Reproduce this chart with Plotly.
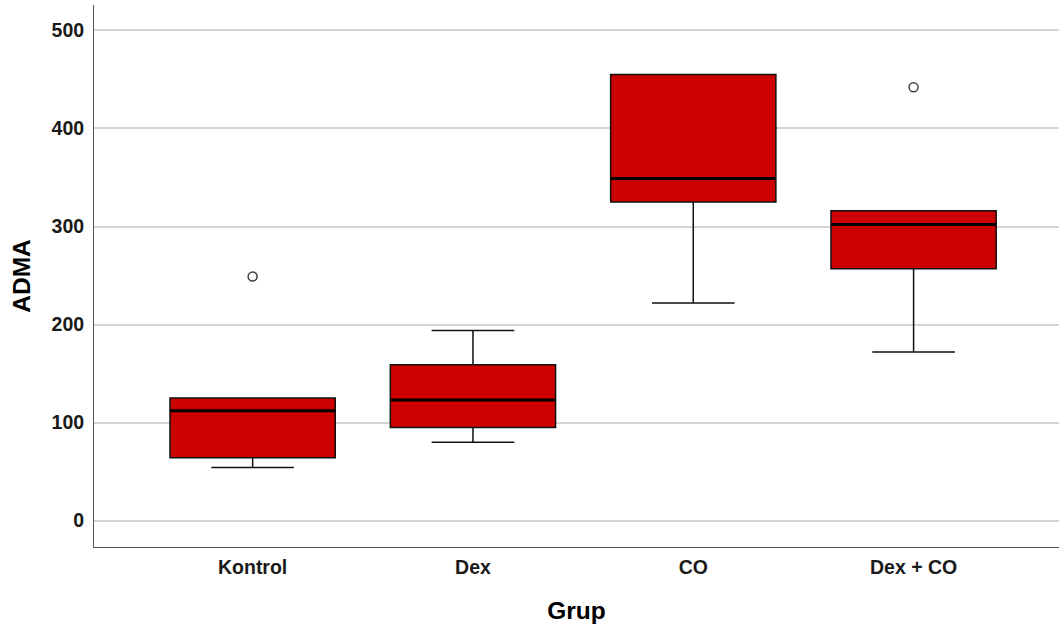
import plotly.graph_objects as go

groups = ["Kontrol", "Dex", "CO", "Dex + CO"]
lower = [54, 80, 222, 172]
q1 = [64, 95, 325, 257]
median = [112, 123, 349, 302]
q3 = [125, 159, 455, 316]
upper = [125, 194, 455, 316]
outlier_groups = ["Kontrol", "Dex + CO"]
outlier_values = [249, 442]
y_ticks = [0, 100, 200, 300, 400, 500]

box_w = 0.75
fig = go.Figure()
fig.add_trace(go.Box(
    x=groups, q1=q1, median=median, q3=q3,
    lowerfence=lower, upperfence=upper,
    fillcolor="#cc0000", line=dict(color="#111111", width=1.5),
    width=box_w, whiskerwidth=0.5, boxpoints=False, showlegend=False,
    hoverinfo="skip",
))
fig.add_trace(go.Scatter(
    x=outlier_groups, y=outlier_values, mode="markers",
    marker=dict(symbol="circle-open", size=9, color="#444444", line=dict(width=1.5)),
    showlegend=False, hoverinfo="skip",
))
for i, m in enumerate(median):
    fig.add_shape(type="line", xref="x", yref="y",
                  x0=i - box_w / 2, x1=i + box_w / 2, y0=m, y1=m,
                  line=dict(color="black", width=3))

fig.update_layout(
    width=1059, height=631,
    margin=dict(l=94, r=0, t=5, b=84, autoexpand=False),
    plot_bgcolor="white", paper_bgcolor="white",
    font=dict(family="Liberation Sans, Arial, sans-serif", size=20, color="#1a1a1a"),
)
fig.update_xaxes(
    type="category", range=[-0.72, 3.66],
    showline=True, linecolor="#555555", linewidth=1, mirror=False,
    showgrid=False, ticks="", automargin=False, ticklabelstandoff=3,
    tickfont=dict(size=19.5, weight="bold"),
    title=dict(text="<b>Grup</b>", font=dict(size=24.5, color="#000000"), standoff=24),
)
fig.update_yaxes(
    range=[-27, 526], tickvals=y_ticks,
    showline=True, linecolor="#555555", linewidth=1,
    showgrid=True, gridcolor="#d4d4d4", gridwidth=1.5,
    zeroline=False, ticks="", ticklabelstandoff=5, automargin=False,
    tickfont=dict(size=19.5, weight="bold"),
    title=dict(text="<b>ADMA</b>", font=dict(size=24.5, color="#000000"), standoff=13),
)
fig.write_html("out.html", config={"displayModeBar": False},
               post_script="document.body.style.margin='0';")
